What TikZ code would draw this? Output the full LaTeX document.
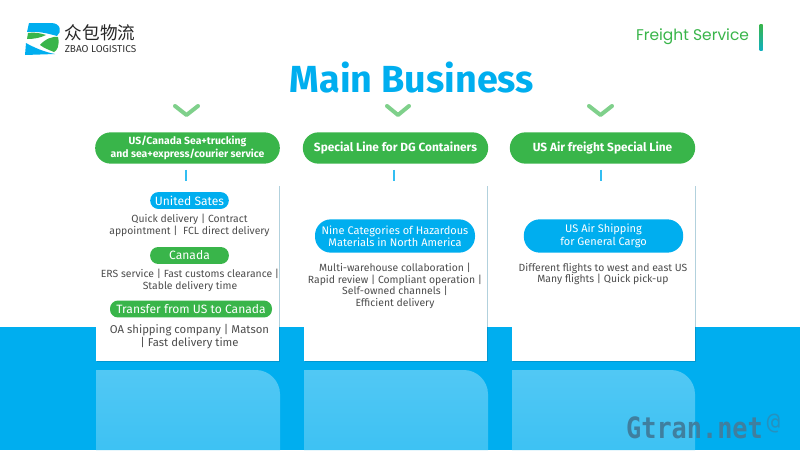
\documentclass[tikz,border=0pt]{standalone}
\usepackage{fontspec}
\setmainfont{Fira Sans}
\newfontfamily\cjkfont{Noto Sans CJK SC}
\newfontfamily\headfont{Poppins}
\newfontfamily\markfont{DejaVu Sans Mono}
\usepackage{tikz}
\usetikzlibrary{calc}
\usetikzlibrary{shadows}
\definecolor{zblue}{HTML}{00AEEF}
\definecolor{zgreen}{HTML}{39B54A}
\definecolor{zlight}{HTML}{7FD08B}
\definecolor{ztext}{HTML}{4D4D4D}
\definecolor{zmark}{HTML}{3F7F9F}
\tikzset{
  headpill/.style={fill=zgreen, rounded corners=11.7pt, text=white, font=\fontsize{8.9}{9.2}\selectfont\bfseries, align=center, minimum height=23.5pt, inner sep=0pt},
  bluepill/.style={fill=zblue, rounded corners=6.3pt, text=white, font=\fontsize{9.05}{9.4}\selectfont, align=center, inner sep=0pt},
  greenpill/.style={fill=zgreen, rounded corners=6pt, text=white, font=\fontsize{9.05}{9.4}\selectfont, align=center, inner sep=0pt},
  card/.style={fill=white, minimum width=137.5pt, inner sep=0pt, drop shadow={shadow xshift=0.7pt, shadow yshift=-0.7pt, fill=zblue!60!black, opacity=0.3}},
  body/.style={text=ztext, font=\fontsize{7.8}{8.8}\selectfont, align=center, inner sep=0pt},
  chev/.style={zlight, line width=3pt, line cap=round, line join=round},
  tick/.style={zblue!80, line width=1.1pt, shorten <=4.5pt, shorten >=3pt},
  glow/.style={top color=zblue!68!white, bottom color=zblue!76!white}
}
\begin{document}
\begin{tikzpicture}[x=0.75pt, y=-0.75pt] % Main business page

      \useasboundingbox (0, 0) rectangle (800, 450);
      \fill [white] (0, 0) rectangle (800, 450);
      \fill [zblue] (0, 327) rectangle (800, 450);

      % reflections under the cards
      \shade [glow] (96, 450) -- (96, 370) -- (256, 370)
      .. controls (269, 370) and (280, 381) .. (280, 394) -- (280, 450) -- cycle;
      \shade [glow] (304, 450) -- (304, 370) -- (464, 370)
      .. controls (477, 370) and (488, 381) .. (488, 394) -- (488, 450) -- cycle;
      \shade [glow] (512, 450) -- (512, 370) -- (671, 370)
      .. controls (684, 370) and (695, 381) .. (695, 394) -- (695, 450) -- cycle;

      % logo
      \fill [zblue] (29, 23) -- (51, 23) .. controls (61, 23) and (62, 32) .. (57, 36)
      .. controls (47, 33) and (36, 31) .. (27, 32) -- cycle;
      \fill [zgreen] (28, 33) .. controls (34, 32) and (40, 33) .. (46, 35)
      .. controls (40, 38) and (34, 39) .. (27, 39) -- cycle;
      \fill [zgreen] (40, 45) .. controls (45, 39) and (53, 36) .. (58, 37)
      .. controls (60, 45) and (57, 51) .. (54, 52) .. controls (49, 50) and (44, 48) .. (40, 45) -- cycle;
      \fill [zblue] (26, 43) .. controls (33, 47) and (44, 52) .. (55, 54)
      -- (25, 55) -- cycle;
      \node (logotext) [text=black!85, inner sep=0pt] at (100, 33) {\cjkfont\fontsize{13.2}{13.2}\selectfont 众包物流};
      \node (logoname) [text=black!80, inner sep=0pt] at (100.5, 49.5) {\fontsize{7.5}{7.5}\selectfont ZBAO LOGISTICS};

      % top right
      \node (service) [text=zgreen, font=\headfont\fontsize{11.6}{11.6}\selectfont, inner sep=0pt] at (692.5, 37) {Freight Service};
      \shade [top color=zgreen, bottom color=zblue!70!zgreen] (759.5, 24) rectangle (762.5, 50);

      \node (title) [text=zblue, font=\fontsize{28.3}{28.3}\selectfont\bfseries, inner sep=0pt] at (412, 78) {Main Business};

      \draw [chev] (175, 106) -- (186.5, 115) -- (198, 106);
      \draw [chev] (387, 106) -- (398, 115) -- (409, 106);
      \draw [chev] (589, 106) -- (600.5, 115) -- (612, 106);

      \node (headA) [headpill, minimum width=138.5pt, font=\fontsize{7.8}{9.2}\selectfont\bfseries] at (187.5, 148) {US/Canada Sea+trucking\\and sea+express/courier service};
      \node (headB) [headpill, minimum width=139pt] at (395.5, 148) {Special Line for DG Containers};
      \node (headC) [headpill, minimum width=139pt] at (602.5, 148) {US Air freight Special Line};

      \node (cardA) [card, minimum height=132pt] at (187.5, 273) {};
      \node (cardB) [card, minimum height=132pt] at (395.5, 273) {};
      \node (cardC) [card, minimum height=132pt] at (603.5, 273) {};

      \draw [tick] ([xshift=-1.1pt]headA.south) -- ([xshift=-1.1pt]headA.south |- cardA.north);
      \draw [tick] ([xshift=-1.1pt]headB.south) -- ([xshift=-1.1pt]headB.south |- cardB.north);
      \draw [tick] ([xshift=-1.1pt]headC.south) -- ([xshift=-1.1pt]headC.south |- cardC.north);

      % first card
      \node (usa) [bluepill, minimum width=59pt, minimum height=12.7pt] at (189.5, 200.5) {United Sates};
      \node (usatext) [body] at (189.5, 225.5) {Quick delivery | Contract\\appointment |~ FCL direct delivery};
      \node (canada) [greenpill, minimum width=59pt, minimum height=12.7pt] at (189.5, 255.5) {Canada};
      \node (canadatext) [body] at (190, 280.5) {ERS service | Fast customs clearance |\\Stable delivery time};
      \node (transfer) [greenpill, minimum width=121.5pt, minimum height=12.7pt] at (191, 309) {Transfer from US to Canada};
      \node (transfertext) [body, font=\fontsize{8.5}{9.8}\selectfont] at (189.5, 336.5) {OA shipping company | Matson\\| Fast delivery time};

      % second card
      \node (nine) [bluepill, minimum width=120pt, minimum height=25pt, rounded corners=12pt, font=\fontsize{8.25}{9.2}\selectfont] at (395, 236) {Nine Categories of Hazardous\\Materials in North America};
      \node (ninetext) [body] at (395, 286) {Multi-warehouse collaboration |\\Rapid review | Compliant operation |\\Self-owned channels |\\Efficient delivery};

      % third card
      \node (air) [bluepill, minimum width=119.5pt, minimum height=25pt, rounded corners=12pt, font=\fontsize{8.25}{9.2}\selectfont] at (603.5, 236) {US Air Shipping\\for General Cargo};
      \node (airtext) [body] at (603, 274) {Different flights to west and east US\\Many flights | Quick pick-up};

      \node (mark) [text=zmark, font=\markfont\bfseries\fontsize{22}{22}\selectfont, inner sep=0pt, xscale=0.86, transform shape] at (694.5, 427.5) {Gtran.net};
      \node (markat) [text=zmark, opacity=0.6, font=\markfont\fontsize{17}{17}\selectfont, inner sep=0pt] at (773.5, 423.5) {@};

    \end{tikzpicture}
\end{document}
